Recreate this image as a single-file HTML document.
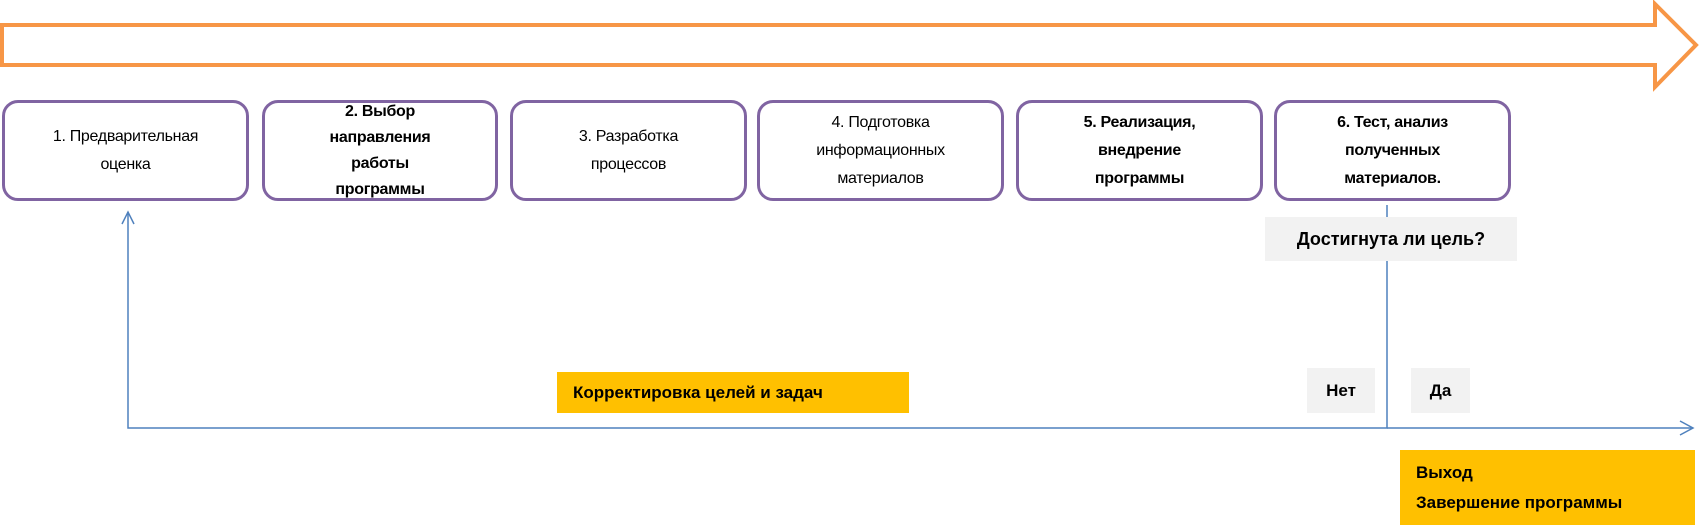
<!DOCTYPE html>
<html><head><meta charset="utf-8"><style>
body{margin:0;width:1704px;height:528px;background:#fff;position:relative;overflow:hidden;font-family:"Liberation Sans",sans-serif;}
.b{position:absolute;top:100px;height:101px;border:3px solid #8064a2;border-radius:16px;box-sizing:border-box;display:flex;align-items:center;justify-content:center;text-align:center;font-size:16px;line-height:28px;color:#000;letter-spacing:-0.3px}
.bold{font-weight:bold}
.l{position:absolute;display:flex;align-items:center;font-size:17px;font-weight:bold;color:#000}
</style></head><body>
<svg width="1704" height="528" style="position:absolute;left:0;top:0">
<path d="M2,25 L1655,25 L1655,4 L1696,45 L1655,87 L1655,65 L2,65 Z" fill="#fff" stroke="#f79646" stroke-width="4"/>
<polyline points="1387,205 1387,428 128,428 128,212" fill="none" stroke="#4f81bd" stroke-width="1.5"/>
<polyline points="122,224 128,212 134,224" fill="none" stroke="#4f81bd" stroke-width="1.5"/>
<line x1="1387" y1="428" x2="1693" y2="428" stroke="#4f81bd" stroke-width="1.5"/>
<polyline points="1680,421 1693,428 1680,435" fill="none" stroke="#4f81bd" stroke-width="1.5"/>
</svg>
<div class="b" style="left:2px;width:247px">1. Предварительная<br>оценка</div>
<div class="b bold" style="left:262px;width:236px;line-height:26px">2. Выбор<br>направления<br>работы<br>программы</div>
<div class="b" style="left:510px;width:237px">3. Разработка<br>процессов</div>
<div class="b" style="left:757px;width:247px">4. Подготовка<br>информационных<br>материалов</div>
<div class="b bold" style="left:1016px;width:247px">5. Реализация,<br>внедрение<br>программы</div>
<div class="b bold" style="left:1274px;width:237px">6. Тест, анализ<br>полученных<br>материалов.</div>
<div class="l" style="left:1265px;top:217px;width:252px;height:44px;background:#f2f2f2;justify-content:center;font-size:18px">Достигнута ли цель?</div>
<div class="l" style="left:557px;top:372px;width:352px;height:41px;background:#ffc000;padding-left:16px;box-sizing:border-box">Корректировка целей и задач</div>
<div class="l" style="left:1307px;top:368px;width:68px;height:45px;background:#f2f2f2;justify-content:center">Нет</div>
<div class="l" style="left:1411px;top:368px;width:59px;height:45px;background:#f2f2f2;justify-content:center">Да</div>
<div class="l" style="left:1400px;top:450px;width:295px;height:75px;background:#ffc000;padding-left:16px;box-sizing:border-box;line-height:30px">Выход<br>Завершение программы</div>
</body></html>
